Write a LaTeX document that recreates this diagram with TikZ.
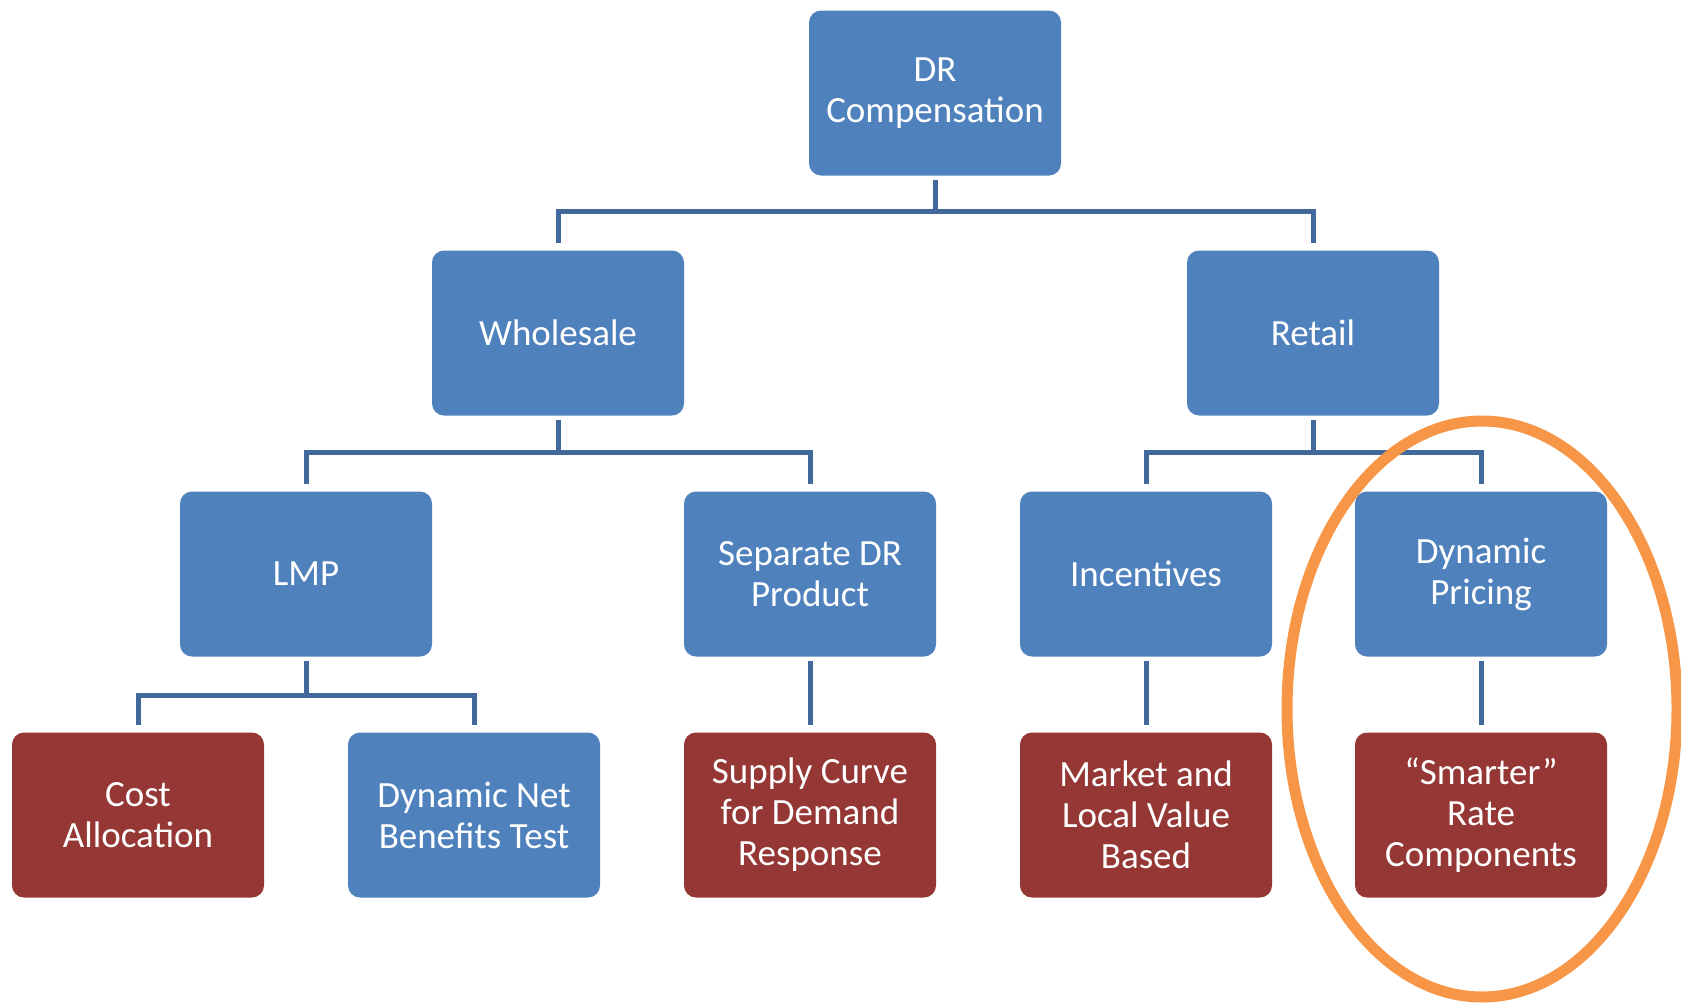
\documentclass[tikz,border=0pt]{standalone}
\usepackage{fontspec}
\setmainfont{Carlito}
\definecolor{boxblue}{HTML}{4F81BD}
\definecolor{boxred}{HTML}{953735}
\definecolor{linkblue}{HTML}{41699C}
\definecolor{ringorange}{HTML}{F79646}
\begin{document}
\begin{tikzpicture}[x=1pt,y=-1pt,
  card/.style={rounded corners=12pt, minimum width=252pt, minimum height=165pt,
    text=white, align=center, inner sep=0pt,
    font=\fontsize{37}{41}\selectfont},
  bluecard/.style={card, fill=boxblue},
  redcard/.style={card, fill=boxred},
  link/.style={draw=linkblue, line width=5pt},
  ring/.style={draw=ringorange, line width=11pt}]
\useasboundingbox (0,0) rectangle (1681,1004);

% tree nodes
\node[bluecard] (dr) at (935,93) {DR\\Compensation};
\node[bluecard] (whole) at (558,333) {Wholesale};
\node[bluecard] (retail) at (1313,333) {Retail};
\node[bluecard] (lmp) at (306,574) {LMP};
\node[bluecard] (sep) at (810,574) {Separate DR\\Product};
\node[bluecard] (inc) at (1146,574) {Incentives};
\node[bluecard] (dyn) at (1481,574) {Dynamic\\Pricing};
\node[redcard] (cost) at (138,815) {Cost\\Allocation};
\node[bluecard] (dnbt) at (474,815) {Dynamic Net\\Benefits Test};
\node[redcard] (supply) at (810,815) {Supply Curve\\for Demand\\Response};
\node[redcard] (market) at (1146,815) {Market and\\Local Value\\Based};
\node[redcard] (smart) at (1481,815) {``Smarter''\\Rate\\Components};

% junction points of the branching bars
\coordinate (j1) at (935,211);
\coordinate (j2) at (558,452);
\coordinate (j3) at (1313,452);
\coordinate (j4) at (306,695);

% connectors
\draw[link] ([yshift=-4pt]dr.south) -- (j1);
\draw[link] ([yshift=7pt]whole.north) |- (j1) -| ([yshift=7pt]retail.north);
\draw[link] ([yshift=-4pt]whole.south) -- (j2);
\draw[link] ([yshift=7pt]lmp.north) |- (j2) -| ([yshift=7pt]sep.north);
\draw[link] ([yshift=-4pt]retail.south) -- (j3);
\draw[link] ([yshift=7pt]inc.north) |- (j3) -| ([yshift=7pt]dyn.north);
\draw[link] ([yshift=-4pt]lmp.south) -- (j4);
\draw[link] ([yshift=7pt]cost.north) |- (j4) -| ([yshift=7pt]dnbt.north);
\draw[link] ([yshift=-4pt]sep.south) -- ([yshift=7pt]supply.north);
\draw[link] ([yshift=-4pt]inc.south) -- ([yshift=7pt]market.north);
\draw[link] ([yshift=-4pt]dyn.south) -- ([yshift=7pt]smart.north);

% highlight ring
\draw[ring] (1482,709) ellipse [x radius=195, y radius=288];
\end{tikzpicture}
\end{document}
